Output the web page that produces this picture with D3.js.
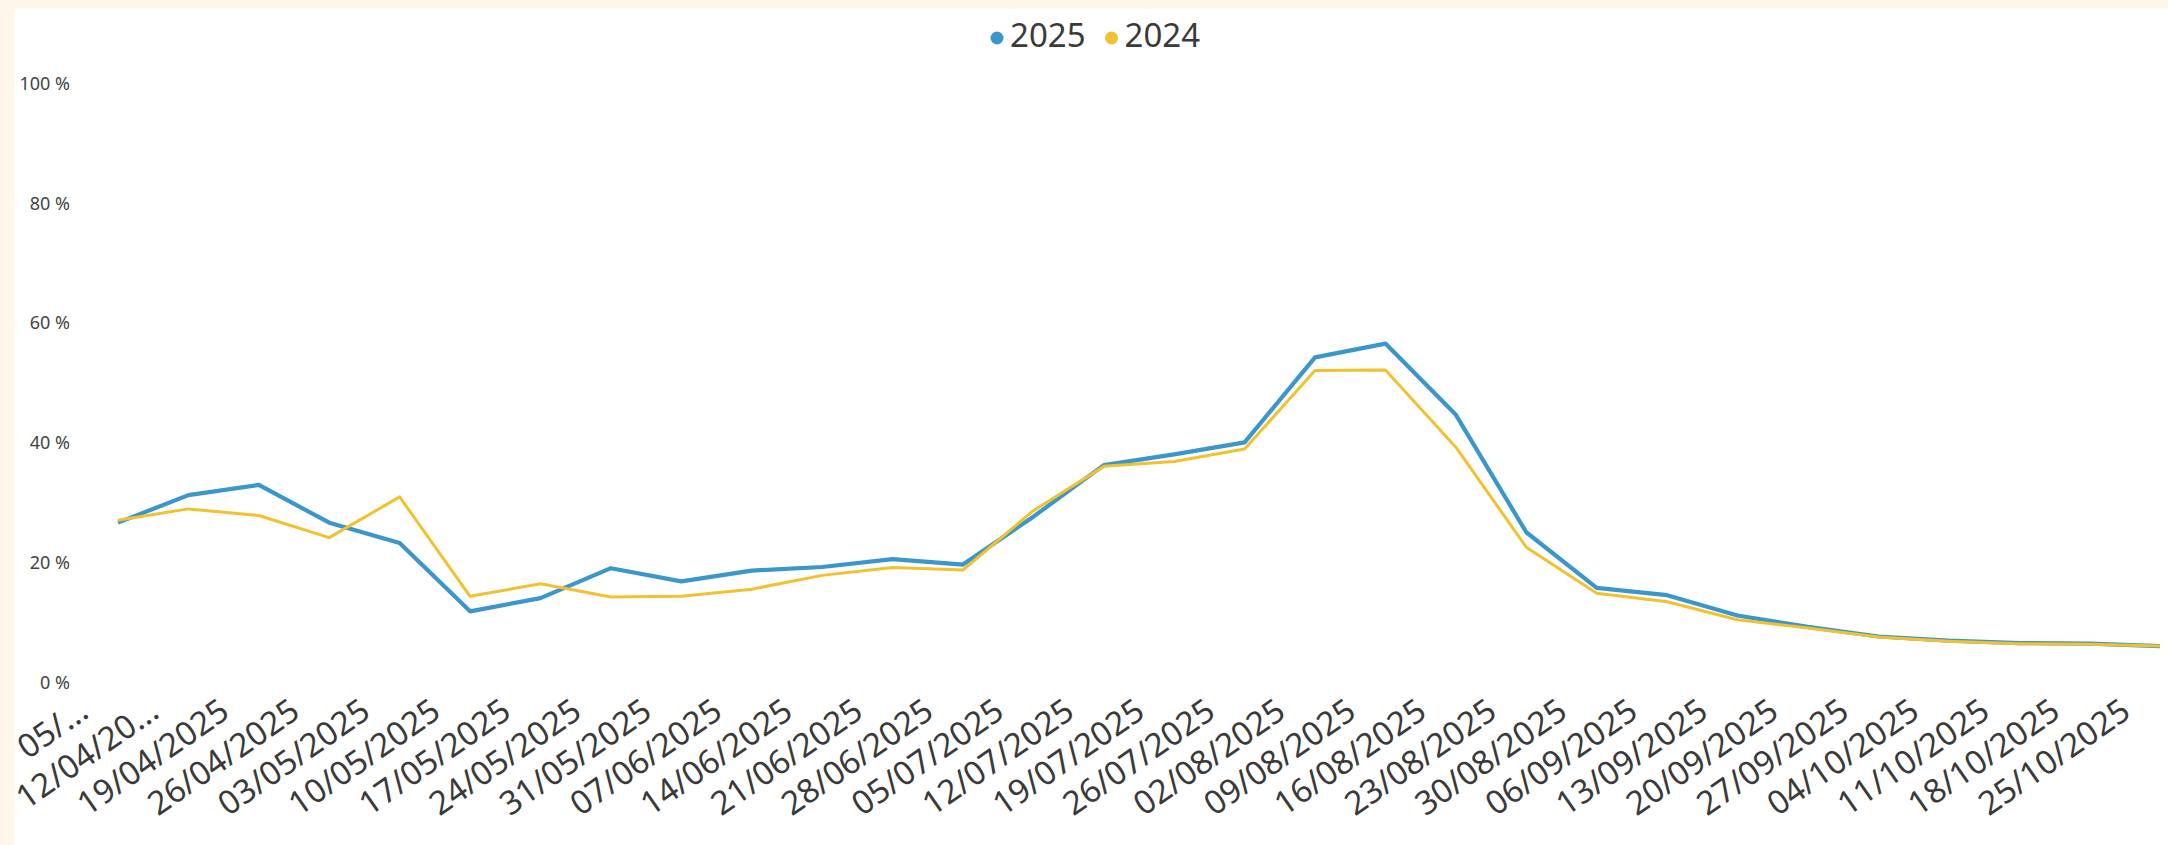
<!DOCTYPE html>
<html>
<head>
<meta charset="utf-8">
<script src="https://cdnjs.cloudflare.com/ajax/libs/d3/7.8.5/d3.min.js"></script>
<style>
  html, body { margin: 0; padding: 0; background: #fef6e9; }
  svg { display: block; }
</style>
</head>
<body>
<svg class="plot"></svg>
<script>
// week labels as shown on the axis (first two are cut off in the original)
const weeks = ['05/...', '12/04/20...', '19/04/2025', '26/04/2025', '03/05/2025', '10/05/2025',
  '17/05/2025', '24/05/2025', '31/05/2025', '07/06/2025', '14/06/2025', '21/06/2025',
  '28/06/2025', '05/07/2025', '12/07/2025', '19/07/2025', '26/07/2025', '02/08/2025',
  '09/08/2025', '16/08/2025', '23/08/2025', '30/08/2025', '06/09/2025', '13/09/2025',
  '20/09/2025', '27/09/2025', '04/10/2025', '11/10/2025', '18/10/2025', '25/10/2025'];

const values_2025 = [26.6, 31.2, 32.9, 26.6, 23.2, 11.8, 14.0, 19.0, 16.8, 18.6, 19.2, 20.5,
  19.6, 27.6, 36.2, 38.0, 40.0, 54.2, 56.5, 44.6, 25.0, 15.7, 14.5, 11.1, 9.2, 7.6, 6.9, 6.5, 6.4, 6.0];
const values_2024 = [27.0, 28.9, 27.8, 24.1, 30.9, 14.3, 16.4, 14.2, 14.3, 15.5, 17.8, 19.1,
  18.7, 28.6, 36.0, 36.8, 38.9, 52.0, 52.1, 39.2, 22.5, 14.8, 13.4, 10.4, 9.0, 7.5, 6.8, 6.4, 6.3, 6.0];

const y_ticks = [0, 20, 40, 60, 80, 100];
const series_names = ['2025', '2024'];
const series_colors = ['#3a96cb', '#f1c12f'];

const W = 2168, H = 845;
const font = "'Noto Sans', 'Open Sans', sans-serif";
const txt_color = '#3a3a3a';

const plot = d3.select('.plot').attr('width', W).attr('height', H);

// cream frame on top / left, white canvas
plot.append('rect').attr('width', W).attr('height', H).attr('fill', '#fef6e9');
plot.append('rect').attr('x', 14).attr('y', 9)
  .attr('width', W - 14).attr('height', H - 9).attr('fill', '#fff');

const xS = d3.scalePoint().domain(weeks).range([118, 2160]);
const yS = d3.scaleLinear().domain([0, 100]).range([682, 83]);

// y axis
const y_axis = plot.append('g')
  .attr('transform', 'translate(70,0)')
  .call(d3.axisLeft(yS).tickValues(y_ticks).tickFormat(d => d + ' %').tickSize(0).tickPadding(0));
y_axis.select('.domain').remove();
y_axis.selectAll('text')
  .attr('dy', '0.35em')
  .style('font-family', font)
  .style('font-size', '18px')
  .style('fill', '#444');

// x axis, rotated labels
const x_axis = plot.append('g')
  .call(d3.axisBottom(xS).tickSize(0));
x_axis.select('.domain').remove();
x_axis.selectAll('text')
  .attr('x', null).attr('y', null).attr('dy', null)
  .attr('text-anchor', 'end')
  .attr('transform', 'translate(-28,716) rotate(-35)')
  .style('font-family', font)
  .style('font-size', '33px')
  .style('fill', txt_color);

// lines
const line = d3.line()
  .x((d, i) => xS(weeks[i]))
  .y(d => yS(d));

const l_lines = plot.append('g');
l_lines.append('path')
  .datum(values_2025)
  .attr('d', line)
  .attr('fill', 'none')
  .attr('stroke', series_colors[0])
  .attr('stroke-width', 4.2)
  .attr('stroke-linejoin', 'round');
l_lines.append('path')
  .datum(values_2024)
  .attr('d', line)
  .attr('fill', 'none')
  .attr('stroke', series_colors[1])
  .attr('stroke-width', 3)
  .attr('stroke-linejoin', 'round');

// legend
const legend = plot.append('g').attr('transform', 'translate(990,47)');
let lx = 0;
series_names.forEach((name, i) => {
    legend.append('circle')
      .attr('cx', lx + 7).attr('cy', -9).attr('r', 6.5)
      .attr('fill', series_colors[i]);
    const t = legend.append('text')
      .attr('x', lx + 20)
      .text(name)
      .style('font-family', font)
      .style('font-size', '33px')
      .style('fill', txt_color);
    lx += 20 + t.node().getComputedTextLength() + 19;
});
</script>
</body>
</html>
